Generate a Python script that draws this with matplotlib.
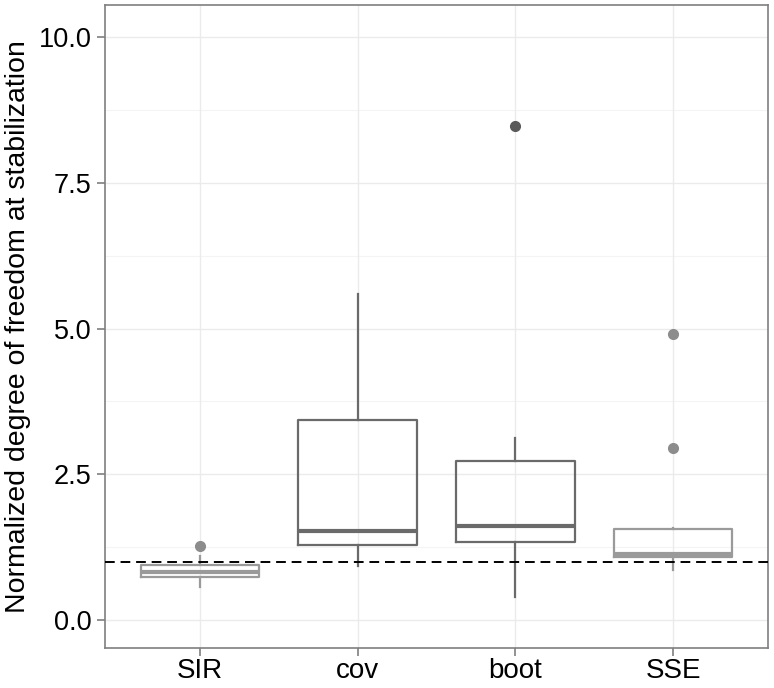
import numpy as np
import matplotlib
matplotlib.use("Agg")
from matplotlib import pyplot as plt

# box statistics
methods = ["SIR", "cov", "boot", "SSE"]
whislo = [0.57, 0.93, 0.40, 0.86]
q1 = [0.73, 1.29, 1.34, 1.08]
med = [0.83, 1.53, 1.61, 1.13]
q3 = [0.94, 3.43, 2.73, 1.56]
whishi = [1.10, 5.60, 3.13, 1.58]
fliers = [[1.27], [], [8.47], [4.90, 2.95]]
box_colors = ["#9a9a9a", "#6a6a6a", "#6a6a6a", "#9a9a9a"]
flier_colors = ["#8c8c8c", "#6a6a6a", "#5a5a5a", "#8c8c8c"]
ref_line = 1.0

plt.rcParams["font.family"] = ["Liberation Sans", "DejaVu Sans"]

fig = plt.figure(figsize=(7.74, 6.88), dpi=100)
ax = fig.add_axes([105 / 774, 40 / 688, 663 / 774, 643 / 688])

grid_c = "#ebebeb"
for v in np.arange(0, 10.01, 2.5):
    ax.axhline(v, color=grid_c, lw=1.0, zorder=0)
for v in np.arange(1.25, 10.01, 2.5):
    ax.axhline(v, color="#f4f4f4", lw=0.8, zorder=0)
for i in range(len(methods)):
    ax.axvline(i + 1, color=grid_c, lw=1.0, zorder=0)

for i, m in enumerate(methods):
    st = [dict(med=med[i], q1=q1[i], q3=q3[i], whislo=whislo[i], whishi=whishi[i],
               fliers=fliers[i], label=m)]
    c = box_colors[i]
    ax.bxp(st, positions=[i + 1], widths=0.75, showcaps=False, patch_artist=False,
           boxprops=dict(color=c, lw=1.6),
           whiskerprops=dict(color=c, lw=1.6),
           medianprops=dict(color=c, lw=3.0),
           flierprops=dict(marker="o", markersize=7, markerfacecolor=flier_colors[i],
                           markeredgecolor=flier_colors[i]),
           manage_ticks=False, zorder=3)

ax.axhline(ref_line, color="black", lw=1.4, ls=(0, (5, 3)), zorder=4)

ax.set_xlim(0.4, 4.6)
ax.set_ylim(-0.48, 10.55)
ax.set_xticks(range(1, len(methods) + 1))
ax.set_xticklabels(methods)
ax.set_yticks([0, 2.5, 5.0, 7.5, 10.0])
ax.set_yticklabels(["0.0", "2.5", "5.0", "7.5", "10.0"])
ax.tick_params(axis="both", labelsize=19.5, color="#7f7f7f", length=6, width=1.2,
               labelcolor="black")
ax.tick_params(axis="x", labelsize=20, pad=1)
for s in ax.spines.values():
    s.set_color("#7f7f7f")
    s.set_linewidth(1.2)
ax.set_ylabel("Normalized degree of freedom at stabilization", fontsize=20.5, labelpad=6)

fig.savefig("out.png", dpi=100)
